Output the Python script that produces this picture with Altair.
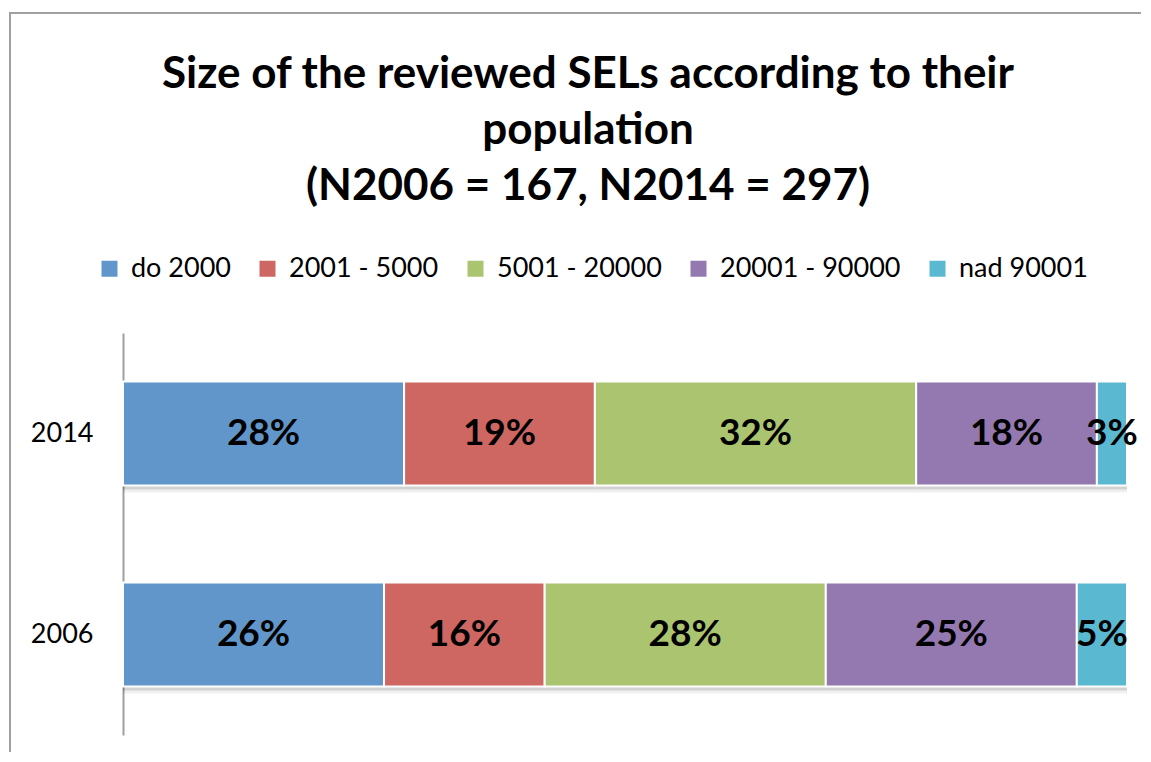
import altair as alt
import pandas as pd

years = ["2014", "2006"]
categories = ["do 2000", "2001 - 5000", "5001 - 20000", "20001 - 90000", "nad 90001"]
values_2014 = [28, 19, 32, 18, 3]
values_2006 = [26, 16, 28, 25, 5]
colors = ["#6096C9", "#CE6661", "#ABC46F", "#9379B0", "#5BB8D1"]
title_lines = ["Size of the reviewed SELs according to their", "population", "(N2006 = 167, N2014 = 297)"]

rows = []
for year, vals in zip(years, [values_2014, values_2006]):
    for i, (c, v) in enumerate(zip(categories, vals)):
        rows.append({"year": year, "cat": c, "idx": i, "value": v, "label": f"{v}%"})
df = pd.DataFrame(rows)

FONT = "Lato"

base = alt.Chart(df).transform_stack(
    stack="value", groupby=["year"], sort=[{"field": "idx", "order": "ascending"}], as_=["v0", "v1"]
).transform_calculate(mid="(datum.v0 + datum.v1) / 2")

yenc = alt.Y(
    "year:N",
    sort=years,
    scale=alt.Scale(paddingInner=0.483, paddingOuter=0.2415),
    axis=alt.Axis(
        title=None, ticks=False, domainColor="#a0a0a0", domainWidth=2,
        labelFont=FONT, labelFontSize=27, labelColor="#000000", labelPadding=30,
    ),
)
xscale = alt.Scale(domain=[0, 100], nice=False, zero=True)

shadow = base.mark_bar(color="#000000", opacity=0.12, yOffset=4).encode(
    x=alt.X("v0:Q", scale=xscale, axis=None), x2="v1:Q", y=yenc
)
shadow2 = base.mark_bar(color="#000000", opacity=0.06, yOffset=7).encode(
    x=alt.X("v0:Q", scale=xscale, axis=None), x2="v1:Q", y=yenc
)

bars = base.mark_bar(stroke="#ffffff", strokeWidth=2).encode(
    x=alt.X("v0:Q", scale=xscale, axis=None),
    x2="v1:Q",
    y=yenc,
    color=alt.Color(
        "cat:N",
        sort=categories,
        scale=alt.Scale(domain=categories, range=colors),
        legend=alt.Legend(
            title=None, orient="none", legendX=-27, legendY=-78, direction="horizontal",
            symbolType="square", symbolSize=256, symbolStrokeWidth=0, labelOffset=8,
            columnPadding=23, labelFont=FONT, labelFontSize=27, labelColor="#000000",
            labelLimit=400, padding=0,
        ),
    ),
)

texts = base.mark_text(font=FONT, fontSize=37, fontWeight="bold", color="#000000", baseline="middle").encode(
    x=alt.X("mid:Q", scale=xscale, axis=None), y=yenc, text="label:N"
)

frame_left = alt.Chart(pd.DataFrame({"k": [0]})).mark_rule(color="#a0a0a0", strokeWidth=2).encode(
    x=alt.value(-113), y=alt.value(-320), y2=alt.value(430)
)
frame_top = alt.Chart(pd.DataFrame({"k": [0]})).mark_rule(color="#a0a0a0", strokeWidth=2).encode(
    x=alt.value(-114), x2=alt.value(1030), y=alt.value(-320)
)

chart = alt.layer(frame_left, frame_top, shadow2, shadow, bars, texts).properties(
    width=1004,
    height=402,
    autosize=alt.AutoSizeParams(type="none"),
    padding={"left": 115, "top": 325, "right": 14, "bottom": 17},
    title=alt.TitleParams(
        text=title_lines, font=FONT, fontSize=44, fontWeight="bold", color="#000000",
        anchor="middle", dx=-37, offset=-197, lineHeight=56,
    ),
).configure_view(stroke=None)

chart.save("out.html", embed_options={"renderer": "svg", "actions": False})
